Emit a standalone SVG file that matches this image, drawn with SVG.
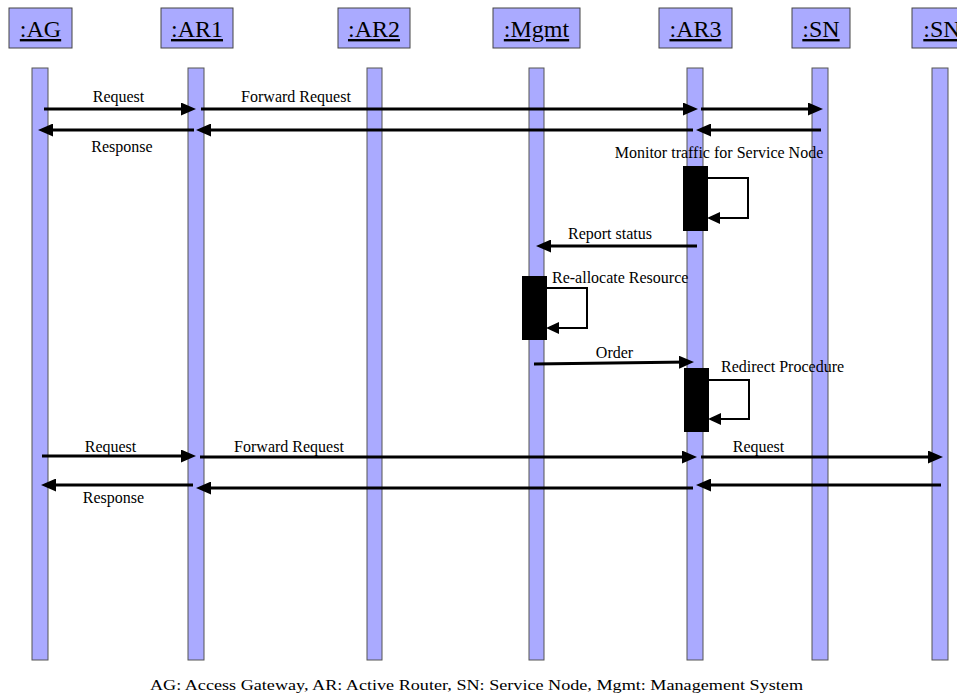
<svg xmlns="http://www.w3.org/2000/svg" width="957" height="695" viewBox="0 0 957 695">
<style>
.hdr rect{fill:#aaaaff;stroke:#444;stroke-width:1}
.hdr text{font-family:'Liberation Serif','Times New Roman',Tinos,'DejaVu Serif',serif;font-size:24px;fill:#000;text-anchor:middle;text-decoration:underline}
.life{fill:#aaaaff;stroke:#555;stroke-width:1}
.act{fill:#000}
.msg{stroke:#000;stroke-width:3;fill:none;marker-end:url(#ah)}
.self{stroke:#000;stroke-width:2;fill:none;marker-end:url(#ahs)}
.lbl{font-family:'Liberation Serif','Times New Roman',Tinos,'DejaVu Serif',serif;font-size:16px;fill:#000;text-anchor:middle}
.lbls{font-family:'Liberation Serif','Times New Roman',Tinos,'DejaVu Serif',serif;font-size:16px;fill:#000}
.cap{font-family:'Liberation Serif','Times New Roman',Tinos,'DejaVu Serif',serif;font-size:15px;fill:#000}
</style>
<defs>
<marker id="ah" markerUnits="userSpaceOnUse" markerWidth="15" markerHeight="13" refX="10" refY="6.5" orient="auto"><path d="M0,0 L15,6.5 L0,13 z" fill="#000"/></marker>
<marker id="ahs" markerUnits="userSpaceOnUse" markerWidth="13" markerHeight="12" refX="11" refY="6" orient="auto"><path d="M0,0 L13,6 L0,12 z" fill="#000"/></marker>
</defs>
<rect width="957" height="695" fill="#fff"/>
<g id="AG"><g class="hdr"><rect x="9" y="8" width="63" height="40"/><text x="40.5" y="37">:AG</text></g><rect class="life" x="32" y="68" width="16" height="592"/></g>
<g id="AR1"><g class="hdr"><rect x="161" y="8" width="72" height="40"/><text x="197" y="37">:AR1</text></g><rect class="life" x="188" y="68" width="16" height="592"/></g>
<g id="AR2"><g class="hdr"><rect x="338" y="8" width="72" height="40"/><text x="374" y="37">:AR2</text></g><rect class="life" x="367" y="68" width="15" height="592"/></g>
<g id="Mgmt"><g class="hdr"><rect x="493" y="8" width="87" height="40"/><text x="536.5" y="37">:Mgmt</text></g><rect class="life" x="529" y="68" width="15" height="592"/></g>
<g id="AR3"><g class="hdr"><rect x="659" y="8" width="73" height="40"/><text x="695.5" y="37">:AR3</text></g><rect class="life" x="687" y="68" width="16" height="592"/></g>
<g id="SN"><g class="hdr"><rect x="792" y="8" width="58" height="40"/><text x="821" y="37">:SN</text></g><rect class="life" x="812" y="68" width="16" height="592"/></g>
<g id="SN2"><g class="hdr"><rect x="912" y="8" width="60" height="40"/><text x="942" y="37">:SN</text></g><rect class="life" x="932" y="68" width="16" height="592"/></g>
<g id="activations">
<rect class="act" x="683" y="166" width="25" height="65"/>
<rect class="act" x="522" y="276" width="25" height="64"/>
<rect class="act" x="684" y="368" width="25" height="64"/>
</g>
<g id="connectors">
<line class="msg" x1="44" y1="109" x2="191" y2="109"/>
<line class="msg" x1="201" y1="109" x2="693" y2="109"/>
<line class="msg" x1="701" y1="109" x2="818" y2="109"/>
<line class="msg" x1="821" y1="130" x2="701" y2="130"/>
<line class="msg" x1="693" y1="130" x2="201" y2="130"/>
<line class="msg" x1="194" y1="130" x2="43" y2="130"/>
<polyline class="self" points="708,178 748,178 748,218 709,218"/>
<line class="msg" x1="697" y1="246" x2="541" y2="246"/>
<polyline class="self" points="547,288 587,288 587,328 548,328"/>
<line class="msg" x1="534" y1="364" x2="689" y2="362"/>
<polyline class="self" points="709,380 749,380 749,419 710,419"/>
<line class="msg" x1="42" y1="456" x2="191" y2="456"/>
<line class="msg" x1="200" y1="457" x2="692" y2="457"/>
<line class="msg" x1="701" y1="457" x2="938" y2="457"/>
<line class="msg" x1="941" y1="485" x2="701" y2="485"/>
<line class="msg" x1="693" y1="488" x2="201" y2="488"/>
<line class="msg" x1="193" y1="485" x2="46" y2="485"/>
</g>
<g id="labels">
<text class="lbl" x="118.5" y="102">Request</text>
<text class="lbl" x="296" y="102">Forward Request</text>
<text class="lbl" x="122" y="152">Response</text>
<text class="lbl" x="719" y="158">Monitor traffic for Service Node</text>
<text class="lbl" x="610" y="239">Report status</text>
<text class="lbls" x="552" y="283">Re-allocate Resource</text>
<text class="lbl" x="614.5" y="358">Order</text>
<text class="lbls" x="721" y="372">Redirect Procedure</text>
<text class="lbl" x="110.5" y="452">Request</text>
<text class="lbl" x="289" y="452">Forward Request</text>
<text class="lbl" x="758.5" y="452">Request</text>
<text class="lbl" x="113.5" y="503">Response</text>
<text class="cap" x="150" y="690" textLength="653" lengthAdjust="spacingAndGlyphs">AG: Access Gateway, AR: Active Router, SN: Service Node, Mgmt: Management System</text>
</g>
</svg>
